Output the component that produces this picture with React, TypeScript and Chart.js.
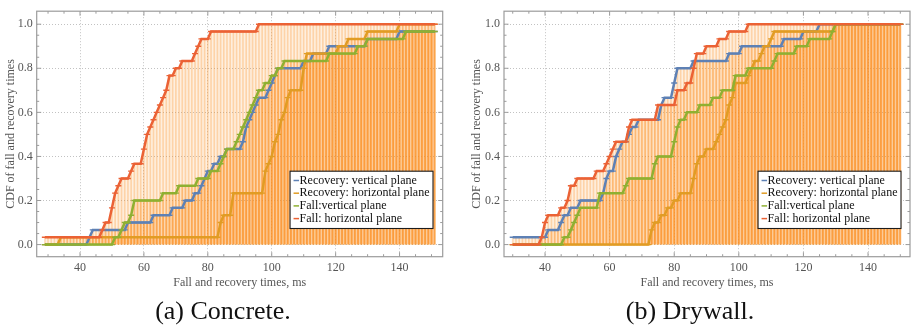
import React, { useEffect, useRef } from "react";
import { Chart, registerables } from "chart.js";

Chart.register(...registerables);

// ---------- data ----------
const seriesLabels = [
  "Recovery: vertical plane",
  "Recovery: horizontal plane",
  "Fall:vertical plane",
  "Fall: horizontal plane",
];
const seriesColors = ["#5E81B5", "#E19C24", "#8FB032", "#EB6235"];
// lower value = drawn on top
const drawOrder = [3, 2, 1, 0];

// (a) Concrete: sorted fall / recovery times (ms), 30 trials each
const concreteRecoveryVertical = [43, 44, 55, 63, 69, 73, 76, 78, 79, 80, 82, 84, 86, 91, 92, 92, 93, 94, 95, 96, 99, 100, 101, 102, 110, 113, 118, 130, 140, 160];
const concreteRecoveryHorizontal = [34, 84, 84, 85, 88, 88, 88, 98, 98, 98, 99, 100, 101, 101, 102, 103, 103, 104, 105, 105, 106, 110, 110, 110, 111, 111, 121, 124, 130, 140];
const concreteFallVertical = [51, 53, 54, 56, 57, 57, 66, 71, 77, 81, 84, 85, 86, 89, 90, 91, 92, 93, 94, 95, 96, 98, 100, 102, 104, 118, 127, 130, 142, 165];
const concreteFallHorizontal = [29, 47, 48, 50, 50, 51, 51, 52, 53, 56, 57, 60, 60, 61, 61, 62, 63, 64, 65, 66, 67, 68, 68, 70, 72, 76, 77, 78, 81, 96];

// (b) Drywall
const drywallRecoveryVertical = [29, 41, 45, 46, 48, 51, 58, 59, 59, 60, 62, 62, 63, 64, 66, 67, 69, 76, 76, 77, 80, 80, 81, 81, 86, 97, 101, 114, 120, 125];
const drywallRecoveryHorizontal = [73, 73, 74, 76, 78, 80, 82, 86, 86, 87, 87, 88, 90, 93, 94, 95, 96, 97, 97, 98, 99, 99, 103, 104, 105, 107, 108, 110, 111, 130];
const drywallFallVertical = [46, 48, 49, 50, 51, 57, 57, 65, 66, 74, 74, 75, 80, 80, 81, 81, 82, 84, 88, 92, 95, 99, 99, 103, 111, 112, 118, 122, 129, 130];
const drywallFallHorizontal = [39, 40, 40, 41, 45, 47, 48, 48, 50, 56, 59, 60, 61, 62, 66, 66, 67, 75, 75, 81, 81, 84, 86, 86, 87, 87, 90, 94, 97, 103];

const xTickValues = [40, 60, 80, 100, 120, 140];
const yTickValues = [0, 0.2, 0.4, 0.6, 0.8, 1.0];

const xAxisTitle = "Fall and recovery times, ms";
const yAxisTitle = "CDF of fall and recovery times";
const captions = ["(a) Concrete.", "(b) Drywall."];

// ---------- style ----------
const FONT = '"Liberation Serif", "Times New Roman", Times, serif';
const FILL_RGB = "250,140,30";
const LABEL_COLOR = "#555";
const FRAME_COLOR = "#9c9c9c";

function cdfPoints(samples: number[], grid: number[]) {
  const n = samples.length;
  return grid.map((x) => ({ x, y: samples.filter((s) => s <= x).length / n }));
}

function makeFramePlugin() {
  return {
    id: "frameTicks",
    afterDatasetsDraw(chart: any) {
      const { ctx, chartArea } = chart;
      const { left, right, top, bottom } = chartArea;
      const xs = chart.scales.x;
      const ys = chart.scales.y;
      ctx.save();
      ctx.strokeStyle = FRAME_COLOR;
      ctx.lineWidth = 1.2;
      ctx.strokeRect(left, top, right - left, bottom - top);
      ctx.lineWidth = 1;
      ctx.beginPath();
      for (let v = 30; v <= 150; v += 5) {
        const px = xs.getPixelForValue(v);
        const len = (v - 40) % 20 === 0 ? 4.5 : 2.5;
        ctx.moveTo(px, bottom);
        ctx.lineTo(px, bottom - len);
        ctx.moveTo(px, top);
        ctx.lineTo(px, top + len);
      }
      for (let k = 0; k <= 20; k++) {
        const v = k * 0.05;
        const py = ys.getPixelForValue(v);
        const len = k % 4 === 0 ? 4.5 : 2.5;
        ctx.moveTo(left, py);
        ctx.lineTo(left + len, py);
        ctx.moveTo(right, py);
        ctx.lineTo(right - len, py);
      }
      ctx.stroke();
      ctx.restore();
    },
  };
}

function makeLegendPlugin(rightGap: number) {
  return {
    id: "boxLegend",
    afterDraw(chart: any) {
      const { ctx, chartArea } = chart;
      ctx.save();
      ctx.font = `12px ${FONT}`;
      const widths = seriesLabels.map((t) => ctx.measureText(t).width);
      const w = 9.5 + Math.max(...widths) + 3.5;
      const h = 57.3;
      const right = chartArea.right - rightGap;
      const left = right - w;
      const top = chartArea.top + 160;
      ctx.fillStyle = "#ffffff";
      ctx.fillRect(left, top, w, h);
      ctx.strokeStyle = "#1c1c1c";
      ctx.lineWidth = 1.1;
      ctx.strokeRect(left, top, w, h);
      seriesLabels.forEach((t, i) => {
        const cy = top + 9.3 + i * 12.7;
        ctx.strokeStyle = seriesColors[i];
        ctx.lineWidth = 1.5;
        ctx.beginPath();
        ctx.moveTo(left + 3.5, cy);
        ctx.lineTo(left + 9, cy);
        ctx.stroke();
        ctx.fillStyle = "#111";
        ctx.textBaseline = "middle";
        ctx.textAlign = "left";
        ctx.fillText(t, left + 9.5, cy);
      });
      ctx.restore();
    },
  };
}

type PanelSpec = {
  series: number[][];
  gridStart: number;
  gridEnd: number;
  xMin: number;
  xMax: number;
  width: number;
  yAxisWidth: number;
  padRight: number;
  yTitlePad: number;
  legendRightGap: number;
};

const panelA: PanelSpec = {
  series: [concreteRecoveryVertical, concreteRecoveryHorizontal, concreteFallVertical, concreteFallHorizontal],
  gridStart: 29,
  gridEnd: 151,
  xMin: 26.45,
  xMax: 153.5,
  width: 450,
  yAxisWidth: 36.7,
  padRight: 7.3,
  yTitlePad: 3.8,
  legendRightGap: 9.7,
};

const panelB: PanelSpec = {
  series: [drywallRecoveryVertical, drywallRecoveryHorizontal, drywallFallVertical, drywallFallHorizontal],
  gridStart: 30,
  gridEnd: 150,
  xMin: 27.3,
  xMax: 153,
  width: 456,
  yAxisWidth: 48,
  padRight: 2,
  yTitlePad: 13.8,
  legendRightGap: 9,
};

const CANVAS_H = 300;

function Panel({ spec, left }: { spec: PanelSpec; left: number }) {
  const ref = useRef<HTMLCanvasElement>(null);
  useEffect(() => {
    const canvas = ref.current;
    if (!canvas) return;
    const grid: number[] = [];
    for (let x = spec.gridStart; x <= spec.gridEnd; x++) grid.push(x);
    const curves = spec.series.map((s) => cdfPoints(s, grid));

    const lineSets = curves.map((pts, i) => ({
      type: "line",
      label: seriesLabels[i],
      data: pts,
      borderColor: seriesColors[i],
      borderWidth: 2.5,
      fill: "origin",
      backgroundColor: `rgba(${FILL_RGB},0.14)`,
      pointStyle: "line",
      pointRadius: 3,
      pointHoverRadius: 3,
      pointBorderWidth: 1.4,
      pointBorderColor: seriesColors[i],
      pointBackgroundColor: seriesColors[i],
      tension: 0,
      order: drawOrder[i],
    }));
    const stemSets = curves.map((pts, i) => ({
      type: "bar",
      label: "stem" + i,
      data: pts,
      backgroundColor: `rgba(${FILL_RGB},0.28)`,
      borderWidth: 0,
      barThickness: 1.0,
      grouped: false,
      order: 10,
    }));

    const chart = new Chart(canvas, {
      type: "line",
      data: { datasets: [...lineSets, ...stemSets] as any },
      options: {
        animation: false,
        responsive: false,
        devicePixelRatio: 1,
        events: [],
        layout: {
          padding: { left: 0, right: spec.padRight, top: 5, bottom: 0 },
          autoPadding: false,
        },
        plugins: {
          legend: { display: false },
          tooltip: { enabled: false },
          filler: { drawTime: "beforeDatasetsDraw" },
        },
        scales: {
          x: {
            type: "linear",
            min: spec.xMin,
            max: spec.xMax,
            offset: false,
            afterBuildTicks: (s: any) => {
              s.ticks = xTickValues.map((v) => ({ value: v }));
            },
            afterFit: (s: any) => {
              s.height = CANVAS_H - 256.7;
            },
            grid: { color: "rgba(0,0,0,0.24)", lineWidth: 1, drawTicks: false, offset: false },
            border: { display: false, dash: [1, 2] },
            ticks: {
              padding: 3.6,
              color: LABEL_COLOR,
              font: { family: FONT, size: 12 },
              maxRotation: 0,
              autoSkip: false,
              callback: (v: any) => String(v),
            },
            title: {
              display: true,
              text: xAxisTitle,
              color: LABEL_COLOR,
              font: { family: FONT, size: 12 },
              padding: { top: 0, bottom: 10 },
            },
          },
          y: {
            type: "linear",
            min: -0.055,
            max: 1.059,
            afterBuildTicks: (s: any) => {
              s.ticks = yTickValues.map((v) => ({ value: v }));
            },
            afterFit: (s: any) => {
              s.width = spec.yAxisWidth;
            },
            grid: { color: "rgba(0,0,0,0.24)", lineWidth: 1, drawTicks: false },
            border: { display: false, dash: [1, 2] },
            ticks: {
              padding: 4,
              color: LABEL_COLOR,
              font: { family: FONT, size: 12 },
              autoSkip: false,
              callback: (v: any) => Number(v).toFixed(1),
            },
            title: {
              display: true,
              text: yAxisTitle,
              color: LABEL_COLOR,
              font: { family: FONT, size: 12 },
              padding: { top: spec.yTitlePad, bottom: 0 },
            },
          },
        },
      } as any,
      plugins: [makeFramePlugin(), makeLegendPlugin(spec.legendRightGap)],
    });
    return () => chart.destroy();
  }, [spec]);

  return (
    <canvas
      ref={ref}
      width={spec.width}
      height={CANVAS_H}
      style={{ position: "absolute", left, top: 0, width: spec.width, height: CANVAS_H }}
    />
  );
}

export default function App() {
  const captionStyle = (center: number): React.CSSProperties => ({
    position: "absolute",
    left: center - 120,
    width: 240,
    top: 296,
    height: 30,
    lineHeight: "30px",
    textAlign: "center",
    fontFamily: FONT,
    fontSize: 26,
    color: "#111",
    whiteSpace: "nowrap",
  });
  return (
    <div
      style={{
        position: "absolute",
        left: 0,
        top: 0,
        width: 912,
        height: 329,
        background: "#fff",
        overflow: "hidden",
      }}
    >
      <Panel spec={panelA} left={0} />
      <Panel spec={panelB} left={456} />
      <div style={captionStyle(223)}>{captions[0]}</div>
      <div style={captionStyle(690)}>{captions[1]}</div>
    </div>
  );
}
